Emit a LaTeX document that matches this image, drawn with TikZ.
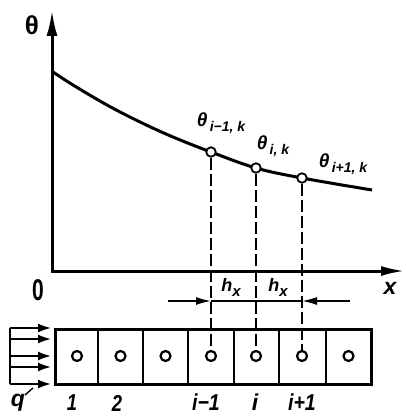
\documentclass[tikz,border=0pt]{standalone}
\usepackage{fontspec}
\setmainfont{Liberation Sans}
\usetikzlibrary{arrows.meta}
\begin{document}
\begin{tikzpicture}[x=1pt,y=-1pt,
 axis/.style={line width=3pt},
 curve/.style={line width=3pt},
 dline/.style={line width=2pt, dash pattern=on 12pt off 4pt},
 pt/.style={circle, draw, fill=white, line width=1.8pt, minimum size=9.5pt, inner sep=0pt},
 cc/.style={circle, draw, line width=2.2pt, minimum size=10pt, inner sep=0pt},
 dim/.style={line width=1.6pt},
 flux/.style={line width=1.8pt},
 lbl/.style={inner sep=0pt, font=\bfseries\itshape\fontsize{23}{23}\selectfont},
 tlbl/.style={inner sep=0pt, font=\bfseries\itshape\fontsize{19}{19}\selectfont},
]
\useasboundingbox (0,0) rectangle (406,417);
% axes
\coordinate (O) at (52,271);
\coordinate (ytip) at (52,10);
\coordinate (xtip) at (405,271);
\draw[axis, {Latex[length=26pt,width=11pt]}-{Latex[length=24pt,width=10pt]}] (ytip) -- (O) -- (xtip);
\node[inner sep=0pt, font=\bfseries\fontsize{26}{26}\selectfont] (th) at (32,25) {θ};
\node[inner sep=0pt, font=\bfseries\fontsize{30}{30}\selectfont] (zero) at (38,290) {\scalebox{0.7}[1]{0}};
\node[lbl] (xl) at (390,288) {x};
% curve
\draw[curve] plot[smooth, tension=0.6] coordinates {(53,72) (73,85) (107,105) (140,122) (173,137) (211,152) (256,168) (302,178) (372,190)};
% cells
\draw[line width=3pt] (55,329) rectangle (371,384);
\foreach \wx in {98,143,188,234,279,326}
  \draw[line width=2.2pt] (\wx,329) -- (\wx,384);
\foreach \n/\cx in {1/77,2/120.5,3/165.5,4/211,5/256,6/302,7/348.5}
  \node[cc] (c\n) at (\cx,356) {};
% points on the curve
\node[pt] (p1) at (211,152) {};
\node[pt] (p2) at (256,168) {};
\node[pt] (p3) at (302,178) {};
\draw[dline] (p1) -- (c4);
\draw[dline] (p2) -- (c5);
\draw[dline] (p3) -- (c6);
% curve labels
\node[tlbl] (l1) at (221,123) {θ\raisebox{-5pt}{\fontsize{14}{14}\selectfont \,i−1, k}};
\node[tlbl] (l2) at (273,146) {θ\raisebox{-5pt}{\fontsize{14}{14}\selectfont \,i, k}};
\node[tlbl] (l3) at (343,164) {θ\raisebox{-5pt}{\fontsize{14}{14}\selectfont \,i+1, k}};
% dimension line
\coordinate (dL) at (168,301);
\coordinate (d1) at (211,301);
\coordinate (d3) at (302,301);
\coordinate (dR) at (350,301);
\draw[dim,-{Latex[length=15pt,width=8pt]}] (dL) -- (d1);
\draw[dim] (d1) -- (d3);
\draw[dim,-{Latex[length=15pt,width=8pt]}] (dR) -- (d3);
\node[inner sep=0pt, font=\bfseries\itshape\fontsize{18}{18}\selectfont] (h1) at (231,287) {h\raisebox{-5pt}{\fontsize{15}{15}\selectfont x}};
\node[inner sep=0pt, font=\bfseries\itshape\fontsize{18}{18}\selectfont] (h2) at (278,287) {h\raisebox{-5pt}{\fontsize{15}{15}\selectfont x}};
% heat flux arrows
\draw[flux] (10,328) -- (10,384);
\foreach \n/\fy in {1/328,2/339,3/356,4/367,5/384}{
  \coordinate (fa\n) at (10,\fy);
  \coordinate (fb\n) at (51,\fy);
  \draw[flux,-{Latex[length=13pt,width=9pt]}] (fa\n) -- (fb\n);
}
\node[lbl] (q) at (18,403) {q};
\coordinate (qa) at (25,395);
\coordinate (qb) at (33,388);
\draw[line width=1.4pt] (qa) -- (qb);
% cell labels
\node[lbl] (n1) at (72,403) {\scalebox{0.8}[1]{1}};
\node[lbl] (n2) at (117,403) {\scalebox{0.8}[1]{2}};
\node[lbl] (ni1) at (206,402) {\scalebox{0.85}[1]{i−1}};
\node[lbl] (ni) at (255,402) {i};
\node[lbl] (ni2) at (302,402) {\scalebox{0.85}[1]{i+1}};
\end{tikzpicture}
\end{document}
